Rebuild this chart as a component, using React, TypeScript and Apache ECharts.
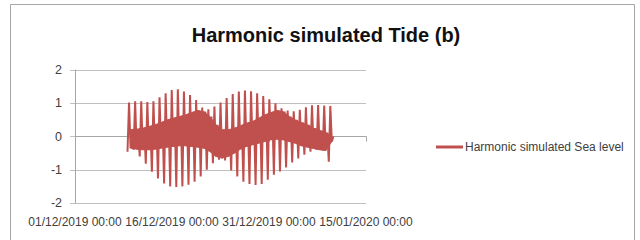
import React, { useEffect, useRef } from "react";
import * as echarts from "echarts";

// x axis: days since 01/12/2019 00:00
const xTickLabels = ["01/12/2019 00:00", "16/12/2019 00:00", "31/12/2019 00:00", "15/01/2020 00:00"];
const yTicks = [-2, -1, 0, 1, 2];

// sampling of the simulated series (days since 01/12/2019)
const startDay = 8.12;
const stepDay = 0.2358;

// per tidal cycle: lower low, higher high, higher low, lower high (metres)
const spikeLow = [-0.46, -0.4, -0.6, -0.82, -1.06, -1.26, -1.41, -1.5, -1.52, -1.5, -1.45, -1.36, -1.2, -1.0, -0.8, -0.7, -0.72, -1.02, -1.2, -1.36, -1.43, -1.46, -1.43, -1.3, -1.15, -1.05, -0.93, -0.78, -0.66, -0.55, -0.46, -0.4, -0.42, -0.76];
const spikeHigh = [1.02, 1.06, 1.06, 1.04, 1.06, 1.18, 1.3, 1.4, 1.42, 1.35, 1.25, 1.1, 0.87, 0.82, 0.9, 1.02, 1.16, 1.28, 1.35, 1.38, 1.36, 1.3, 1.22, 1.12, 1.0, 0.85, 0.78, 0.76, 0.8, 0.88, 0.94, 0.95, 0.93, 0.92];
const bandLow = [-0.35, -0.38, -0.4, -0.4, -0.38, -0.35, -0.32, -0.3, -0.28, -0.28, -0.3, -0.32, -0.35, -0.45, -0.6, -0.65, -0.6, -0.5, -0.38, -0.3, -0.25, -0.2, -0.15, -0.1, -0.08, -0.1, -0.15, -0.2, -0.28, -0.32, -0.36, -0.4, -0.42, -0.15];
const bandHigh = [0.2, 0.22, 0.25, 0.3, 0.35, 0.42, 0.5, 0.55, 0.6, 0.65, 0.72, 0.78, 0.75, 0.6, 0.35, 0.2, 0.2, 0.25, 0.32, 0.4, 0.45, 0.55, 0.65, 0.72, 0.78, 0.75, 0.6, 0.5, 0.42, 0.35, 0.25, 0.18, 0.12, 0.0];

const seriesName = "Harmonic simulated Sea level";
const RED = "#c0504d";
const GRID = "#bfbfbf";
const TXT = "#404040";
const FONT = "'Liberation Sans', Arial, sans-serif";

export default function App() {
  const ref = useRef<HTMLDivElement>(null);
  useEffect(() => {
    const chart = echarts.init(ref.current!, null, { renderer: "svg" });
    const data: number[][] = [];
    const bandX: number[] = [];
    let i = 0;
    for (let k = 0; k < spikeHigh.length; k++) {
      for (const v of [spikeLow[k], spikeHigh[k], bandLow[k], bandHigh[k]]) {
        data.push([startDay + i * stepDay, v]);
        i++;
      }
      bandX.push(startDay + (4 * k + 2) * stepDay);
    }
    chart.setOption({
      animation: false,
      backgroundColor: "#ffffff",
      title: {
        text: "Harmonic simulated Tide (b)",
        left: 321,
        textAlign: "center",
        top: 20,
        textStyle: { fontFamily: FONT, fontSize: 20, fontWeight: "bold", color: "#111" },
      },
      graphic: [
        {
          type: "rect",
          shape: { x: 10.5, y: 4.5, width: 624, height: 260 },
          style: { fill: "none", stroke: "#a6a6a6", lineWidth: 1 },
          silent: true,
        },
      ],
      legend: {
        data: [{ name: seriesName, icon: "rect" }],
        left: 431,
        top: 136,
        itemWidth: 27,
        itemHeight: 3,
        textStyle: { fontFamily: FONT, fontSize: 12, color: TXT, padding: [0, 0, 0, -3] },
      },
      grid: { left: 75, right: 274, top: 70, bottom: 37 },
      xAxis: [
        {
          type: "value",
          min: 0,
          max: 45,
          interval: 15,
          axisLine: { show: false, onZero: false },
          axisTick: { show: false },
          splitLine: { show: false },
          axisLabel: {
            margin: 13,
            fontFamily: FONT,
            fontSize: 12,
            color: TXT,
            showMinLabel: true,
            showMaxLabel: true,
            formatter: (v: number) => xTickLabels[Math.round(v / 15)] ?? "",
          },
        },
        {
          type: "value",
          min: 0,
          max: 45,
          interval: 15,
          position: "bottom",
          axisLine: { show: true, onZero: true, lineStyle: { color: "#a6a6a6" } },
          axisTick: { show: true, length: 5, lineStyle: { color: "#a6a6a6" } },
          splitLine: { show: false },
          axisLabel: { show: false },
        },
      ],
      yAxis: {
        type: "value",
        min: yTicks[0],
        max: yTicks[yTicks.length - 1],
        interval: 1,
        axisLine: { show: true, lineStyle: { color: "#a6a6a6" } },
        axisTick: { show: true, length: 5, lineStyle: { color: GRID } },
        splitLine: { show: true, lineStyle: { color: GRID } },
        axisLabel: { margin: 13, fontFamily: FONT, fontSize: 12.5, color: TXT },
      },
      series: [
        {
          name: "band",
          type: "custom",
          xAxisIndex: 0,
          silent: true,
          data: [[bandX[0], bandLow[0]]],
          renderItem: (_params: any, api: any) => {
            const pts: number[][] = [];
            for (let k = 0; k < bandX.length; k++) pts.push(api.coord([bandX[k], bandHigh[k]]));
            for (let k = bandX.length - 1; k >= 0; k--) pts.push(api.coord([bandX[k], bandLow[k]]));
            return {
              type: "polygon",
              shape: { points: pts },
              style: { fill: RED, stroke: RED, lineWidth: 1 },
            };
          },
        },
        {
          name: seriesName,
          type: "line",
          xAxisIndex: 0,
          data,
          symbol: "none",
          lineStyle: { color: RED, width: 2 },
          itemStyle: { color: RED },
        },
      ],
    });
    return () => chart.dispose();
  }, []);
  return (
    <div
      ref={ref}
      style={{ position: "fixed", left: 0, top: 0, width: 640, height: 240, background: "#fff" }}
    />
  );
}
